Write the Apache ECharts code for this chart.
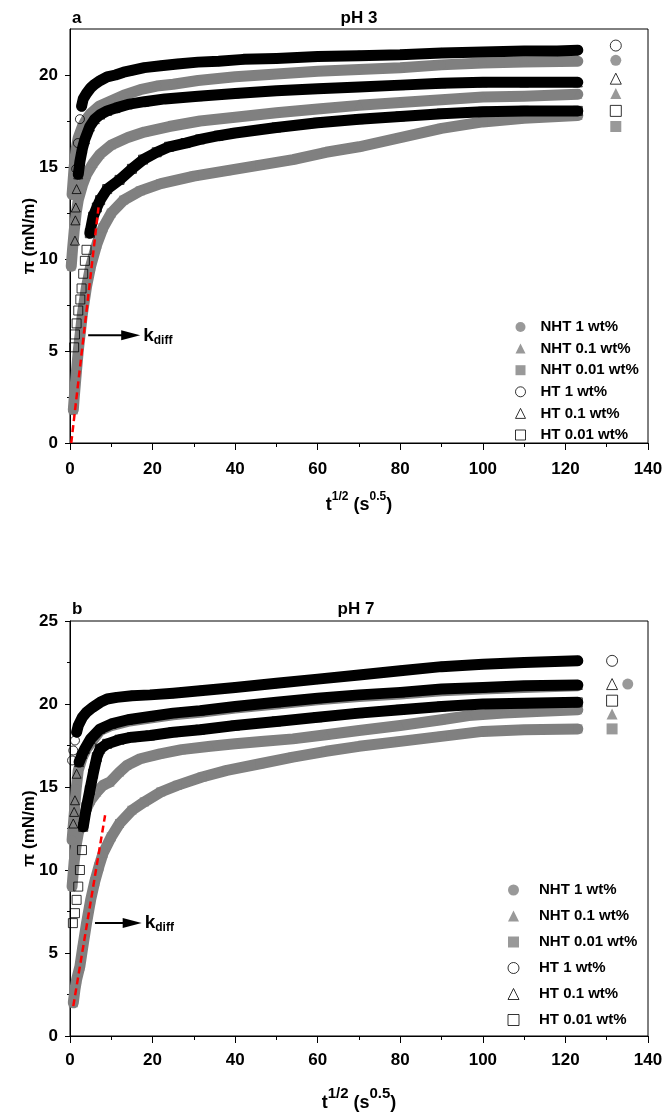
<!DOCTYPE html>
<html><head><meta charset="utf-8">
<script src="https://cdn.jsdelivr.net/npm/echarts@6/dist/echarts.min.js"></script>
<style>html,body{margin:0;padding:0;background:#fff}#c{width:669px;height:1120px}</style>
</head><body><div id="c"></div>
<script>
// ---------------- data ----------------
const seriesNames = ['NHT 1 wt%', 'NHT 0.1 wt%', 'NHT 0.01 wt%', 'HT 1 wt%', 'HT 0.1 wt%', 'HT 0.01 wt%'];
const xTickValues = [0, 20, 40, 60, 80, 100, 120, 140];
const yTicksPh3 = [0, 5, 10, 15, 20];
const yMinorPh3 = [2.5, 7.5, 12.5, 17.5];
const yTicksPh7 = [0, 5, 10, 15, 20, 25];

// pH 3  [t^1/2, pi]
const ph3_NHT1 = [[0.5,13.5],[1,15.0],[1.5,16.0],[2,16.6],[3,17.2],[4,17.6],[5,17.9],[7,18.3],[10,18.6],[13,18.9],[17,19.2],[21,19.4],[25,19.5],[31,19.7],[40,19.9],[50,20.05],[60,20.2],[70,20.3],[80,20.4],[90,20.55],[100,20.65],[110,20.7],[123,20.75]];
const ph3_NHT01 = [[0.3,9.6],[0.6,10.5],[1,11.5],[1.5,12.5],[2,13.2],[3,14.0],[4,14.6],[5.6,15.2],[7.3,15.7],[10,16.2],[14,16.6],[18,16.9],[24,17.2],[31.5,17.5],[40,17.7],[50,17.95],[60,18.15],[70,18.35],[80,18.5],[90,18.65],[100,18.8],[110,18.85],[123,18.95]];
const ph3_NHT001 = [[0.8,1.8],[1.0,2.4],[1.3,3.2],[1.6,4.0],[2,5.0],[2.5,6.0],[3,7.0],[4,8.5],[5,9.6],[6.5,10.8],[8,11.7],[10,12.5],[13,13.2],[17,13.7],[22,14.1],[30,14.5],[38,14.8],[46,15.1],[54,15.4],[62,15.8],[70,16.1],[80,16.6],[90,17.1],[100,17.45],[110,17.65],[123,17.8]];
const ph3_HT1 = [[1.5,14.9],[1.9,16.3],[2.4,17.6],[2.8,18.3],[3.2,18.7],[4,19.0],[5,19.3],[6,19.5],[7.3,19.7],[9,19.9],[11,20.0],[13,20.15],[15,20.25],[18,20.4],[22,20.5],[26,20.6],[31,20.7],[36,20.75],[42,20.85],[50,20.9],[60,21.0],[70,21.05],[80,21.1],[90,21.2],[100,21.25],[110,21.3],[118,21.3],[123,21.35]];
const ph3_HT01 = [[1.2,11.0],[1.3,12.1],[1.4,12.8],[1.6,13.8],[2.0,14.6],[2.4,15.3],[3,16.0],[3.6,16.5],[4.8,17.2],[6,17.6],[7.3,17.85],[9,18.05],[11,18.2],[14,18.4],[18,18.55],[23,18.7],[31,18.85],[40,19.0],[50,19.15],[60,19.25],[70,19.35],[80,19.45],[90,19.55],[100,19.6],[110,19.6],[123,19.6]];
const ph3_HT001 = [[1.0,5.2],[1.2,5.9],[1.6,6.5],[2,7.2],[2.5,7.8],[2.8,8.4],[3.2,9.2],[3.6,9.9],[4,10.5],[4.8,11.4],[5.6,12.3],[6.5,12.8],[7.3,13.2],[9,13.8],[12,14.3],[15,14.9],[17.7,15.4],[21,15.8],[24,16.1],[28,16.3],[31.5,16.5],[36,16.7],[40,16.85],[50,17.15],[60,17.4],[70,17.6],[80,17.75],[90,17.9],[100,18.0],[110,18.05],[123,18.05]];
const ph3_endMarks = [[132.2,20.8],[132.2,19.0],[132.2,17.2],[132.2,21.6],[132.2,19.8],[132.2,18.05]];
const ph3_kdiffLine = [[0.3,0],[6.9,12.8]];
const ph3_arrow = [[4.4,5.85],[17.0,5.85]];

// pH 7
const ph7_NHT1 = [[0.5,11.8],[1,13.3],[1.5,14.9],[2,16.0],[3,16.8],[4,17.3],[5.5,17.8],[7.3,18.4],[10,18.7],[14,18.95],[19.4,19.15],[25,19.35],[31.5,19.5],[40,19.75],[50,20.0],[60,20.25],[70,20.45],[80,20.6],[90,20.8],[100,20.9],[110,21.0],[123,21.1]];
const ph7_NHT01 = [[0.5,9.0],[1,10.5],[1.5,11.5],[2,12.2],[3,13.0],[4,13.7],[5,14.2],[6.5,14.7],[8,15.1],[9.7,15.3],[12,15.9],[13.8,16.3],[17,16.7],[21.8,17.0],[27,17.25],[34,17.45],[40,17.6],[47,17.75],[54,17.9],[62,18.15],[70,18.4],[80,18.7],[90,19.05],[96.6,19.3],[105,19.45],[113,19.55],[123,19.65]];
const ph7_NHT001 = [[0.8,2.0],[1.2,2.8],[1.6,3.4],[2.4,4.2],[3,5.2],[4,6.8],[5,8.2],[6,9.3],[7,10.2],[8,11.0],[10,12.0],[12,12.8],[15,13.6],[18,14.1],[22,14.7],[26,15.1],[32,15.6],[38,16.0],[46,16.4],[54,16.8],[62,17.15],[70,17.45],[80,17.75],[90,18.05],[100,18.35],[110,18.45],[123,18.5]];
const ph7_HT1 = [[0.5,16.6],[0.8,17.2],[1.2,17.8],[1.6,18.3],[2,18.7],[3,19.2],[4,19.5],[5.5,19.8],[7.3,20.1],[9,20.3],[11.3,20.4],[15,20.5],[19.4,20.55],[25,20.65],[31.5,20.8],[40,21.0],[50,21.25],[60,21.5],[70,21.75],[80,22.0],[90,22.25],[100,22.4],[110,22.5],[123,22.6]];
const ph7_HT01 = [[0.8,12.8],[1.0,13.5],[1.2,14.2],[1.6,15.8],[2.2,16.5],[3,17.0],[3.6,17.3],[5,17.9],[7.3,18.5],[10,18.8],[14,19.05],[19.4,19.25],[25,19.45],[31.5,19.6],[40,19.85],[50,20.1],[60,20.35],[70,20.55],[80,20.7],[90,20.9],[100,21.0],[110,21.1],[123,21.15]];
const ph7_HT001 = [[0.7,6.8],[1.2,7.4],[1.6,8.2],[2,9.0],[2.4,10.0],[2.9,11.2],[3.2,12.6],[4,13.8],[4.8,14.8],[5.6,15.8],[6.5,16.8],[7.3,17.3],[9,17.6],[12,17.85],[15,18.0],[19.4,18.1],[25,18.3],[31.5,18.45],[40,18.7],[50,18.95],[60,19.2],[70,19.45],[80,19.65],[90,19.85],[100,20.0],[110,20.05],[123,20.1]];
const ph7_endMarks = [[135.1,21.2],[131.3,19.4],[131.3,18.5],[131.3,22.6],[131.3,21.2],[131.3,20.2]];
const ph7_kdiffLine = [[0.8,1.8],[8.5,13.3]];
const ph7_arrow = [[6.05,6.8],[17.36,6.8]];

// ---------------- styling / build ----------------
const FONT = 'Liberation Sans, Arial, Helvetica, sans-serif';
const GRAY = '#808080';
const symbols = ['circle', 'triangle', 'rect', 'circle', 'triangle', 'rect'];
const isOpen = [false, false, false, true, true, true];
const bandFromPh3 = [0, 0, 0, 3, 4, 9];
const bandFromPh7 = [0, 0, 0, 3, 4, 6];

function styleFor(i, solidFill) {
  return isOpen[i]
    ? { color: solidFill ? '#fff' : 'rgba(255,255,255,0)', borderColor: '#000', borderWidth: 1 }
    : { color: GRAY, borderWidth: 0 };
}

function buildSeries(g, yIdx, sets, bandFrom, endMarks, kLine) {
  const out = [];
  for (let i = 0; i < 6; i++) {
    const col = isOpen[i] ? '#000' : GRAY;
    const zz = isOpen[i] ? 3 : 2;
    out.push({
      type: 'line', name: '_band' + i, xAxisIndex: g, yAxisIndex: yIdx,
      data: sets[i].slice(bandFrom[i]), symbol: 'none', silent: true, animation: false,
      lineStyle: { color: col, width: 11, cap: 'round', join: 'round' }, z: zz
    });
    out.push({
      type: 'scatter', name: seriesNames[i], xAxisIndex: g, yAxisIndex: yIdx,
      data: sets[i], symbol: symbols[i], symbolSize: 9, silent: true, animation: false,
      itemStyle: styleFor(i, false), z: zz
    });
  }
  for (let i = 0; i < 6; i++) {
    out.push({
      type: 'scatter', name: '_end' + i, xAxisIndex: g, yAxisIndex: yIdx,
      data: [endMarks[i]], symbol: symbols[i], symbolSize: 11, silent: true, animation: false,
      itemStyle: styleFor(i, true), z: 4
    });
  }
  out.push({
    type: 'line', name: '_kdiff', xAxisIndex: g, yAxisIndex: yIdx, data: kLine,
    symbol: 'none', silent: true, animation: false,
    lineStyle: { color: '#ff0000', width: 2.5, type: [7, 4] }, z: 5
  });
  return out;
}

const ph3Sets = [ph3_NHT1, ph3_NHT01, ph3_NHT001, ph3_HT1, ph3_HT01, ph3_HT001];
const ph7Sets = [ph7_NHT1, ph7_NHT01, ph7_NHT001, ph7_HT1, ph7_HT01, ph7_HT001];

const labelStyle = { color: '#000', fontSize: 17, fontWeight: 'bold', fontFamily: FONT };
const axisLine = { show: true, lineStyle: { color: '#000', width: 1 } };

function xAxisFor(g, margin, nameGap, supSize, lh) {
  return {
    gridIndex: g, type: 'value', min: 0, max: 140, interval: 20,
    axisLine: axisLine,
    axisTick: { show: true, length: 7, lineStyle: { color: '#000' }, customValues: xTickValues },
    minorTick: { show: true, splitNumber: 2, length: 4, lineStyle: { color: '#000' } },
    splitLine: { show: false }, minorSplitLine: { show: false },
    axisLabel: Object.assign({ margin: margin, customValues: xTickValues }, labelStyle),
    name: '{m|t}{s|1/2}{m| (s}{s|0.5}{m|)}', nameLocation: 'middle', nameGap: nameGap,
    nameMoveOverlap: false,
    nameTextStyle: {
      rich: {
        m: { fontSize: 18, fontWeight: 'bold', fontFamily: FONT, color: '#000', lineHeight: lh, verticalAlign: 'middle' },
        s: { fontSize: supSize, fontWeight: 'bold', fontFamily: FONT, color: '#000', lineHeight: supSize, verticalAlign: 'top' }
      }
    }
  };
}

const yName = {
  name: 'π (mN/m)', nameLocation: 'middle', nameGap: 32, nameMoveOverlap: false,
  nameTextStyle: { color: '#000', fontSize: 17, fontWeight: 'bold', fontFamily: FONT }
};

function legendFor(left, top, gap, size, pad) {
  return {
    orient: 'vertical', left: left, top: top, padding: 0, itemGap: gap,
    itemWidth: size, itemHeight: size, selectedMode: false,
    formatter: n => '{t|' + n + '}',
    textStyle: {
      color: '#000', fontSize: 15, fontWeight: 'bold', fontFamily: FONT, lineHeight: 15,
      rich: { t: { color: '#000', fontSize: 15, fontWeight: 'bold', fontFamily: FONT, lineHeight: 15, padding: [0, 0, 0, pad] } }
    },
    data: seriesNames.map((n, i) => ({ name: n, icon: symbols[i], itemStyle: styleFor(i, true) }))
  };
}

const option = {
  animation: false,
  backgroundColor: '#fff',
  grid: [
    { left: 70, top: 29, width: 578, height: 414, show: true, borderColor: '#000', borderWidth: 1, backgroundColor: 'transparent' },
    { left: 70, top: 621, width: 578, height: 415, show: true, borderColor: '#000', borderWidth: 1, backgroundColor: 'transparent' }
  ],
  xAxis: [xAxisFor(0, 18, 48, 12, 28), xAxisFor(1, 16, 50, 15, 34)],
  yAxis: [
    Object.assign({
      gridIndex: 0, type: 'value', min: 0, max: 22.5, interval: 5,
      axisLine: axisLine,
      axisTick: { show: true, length: 5, lineStyle: { color: '#000' }, customValues: yTicksPh3 },
      axisLabel: Object.assign({ margin: 12, customValues: yTicksPh3 }, labelStyle),
      splitLine: { show: false }
    }, yName),
    {
      gridIndex: 0, type: 'value', min: 0, max: 22.5, interval: 2.5, position: 'left',
      axisLine: { show: false },
      axisTick: { show: true, length: 3, lineStyle: { color: '#000' }, customValues: yMinorPh3 },
      axisLabel: { show: false }, splitLine: { show: false }
    },
    Object.assign({
      gridIndex: 1, type: 'value', min: 0, max: 25, interval: 5,
      axisLine: axisLine,
      axisTick: { show: true, length: 5, lineStyle: { color: '#000' }, customValues: yTicksPh7 },
      minorTick: { show: true, splitNumber: 2, length: 3, lineStyle: { color: '#000' } },
      axisLabel: Object.assign({ margin: 12, customValues: yTicksPh7 }, labelStyle),
      splitLine: { show: false }, minorSplitLine: { show: false }
    }, yName)
  ],
  legend: [legendFor(515, 319.5, 6.6, 10, 10), legendFor(507.5, 882.5, 11, 11, 15)],
  series: buildSeries(0, 0, ph3Sets, bandFromPh3, ph3_endMarks, ph3_kdiffLine)
    .concat(buildSeries(1, 2, ph7Sets, bandFromPh7, ph7_endMarks, ph7_kdiffLine))
};

const chart = echarts.init(document.getElementById('c'), null, { renderer: 'canvas' });
chart.setOption(option);

// annotations positioned through the axes
function toPx(g, p) { return chart.convertToPixel({ gridIndex: g }, p); }
function arrowGroup(g, pts) {
  const a = toPx(g, pts[0]), b = toPx(g, pts[1]);
  return [
    { type: 'line', silent: true, z: 10, shape: { x1: a[0], y1: a[1], x2: b[0] - 15, y2: b[1] }, style: { stroke: '#000', lineWidth: 2 } },
    { type: 'polygon', silent: true, z: 10, shape: { points: [[b[0], b[1]], [b[0] - 19, b[1] - 5], [b[0] - 19, b[1] + 5]] }, style: { fill: '#000' } },
    { type: 'text', silent: true, z: 10, x: b[0] + 3, y: b[1] - 11,
      style: { text: '{k|k}{d|diff}', verticalAlign: 'top',
        rich: {
          k: { fontSize: 19, fontWeight: 'bold', fontFamily: FONT, fill: '#000', lineHeight: 22, verticalAlign: 'middle' },
          d: { fontSize: 12, fontWeight: 'bold', fontFamily: FONT, fill: '#000', lineHeight: 8, verticalAlign: 'bottom' }
        } } }
  ];
}
function titleText(x, y, t, align) {
  return { type: 'text', silent: true, x: x, y: y,
    style: { text: t, align: align, verticalAlign: 'middle', fill: '#000', font: 'bold 17px ' + FONT } };
}
chart.setOption({
  graphic: [].concat(
    arrowGroup(0, ph3_arrow), arrowGroup(1, ph7_arrow),
    [titleText(72, 18, 'a', 'left'), titleText(359, 18, 'pH 3', 'center'),
     titleText(72, 609, 'b', 'left'), titleText(356, 609, 'pH 7', 'center')]
  )
});
</script>
</body></html>
